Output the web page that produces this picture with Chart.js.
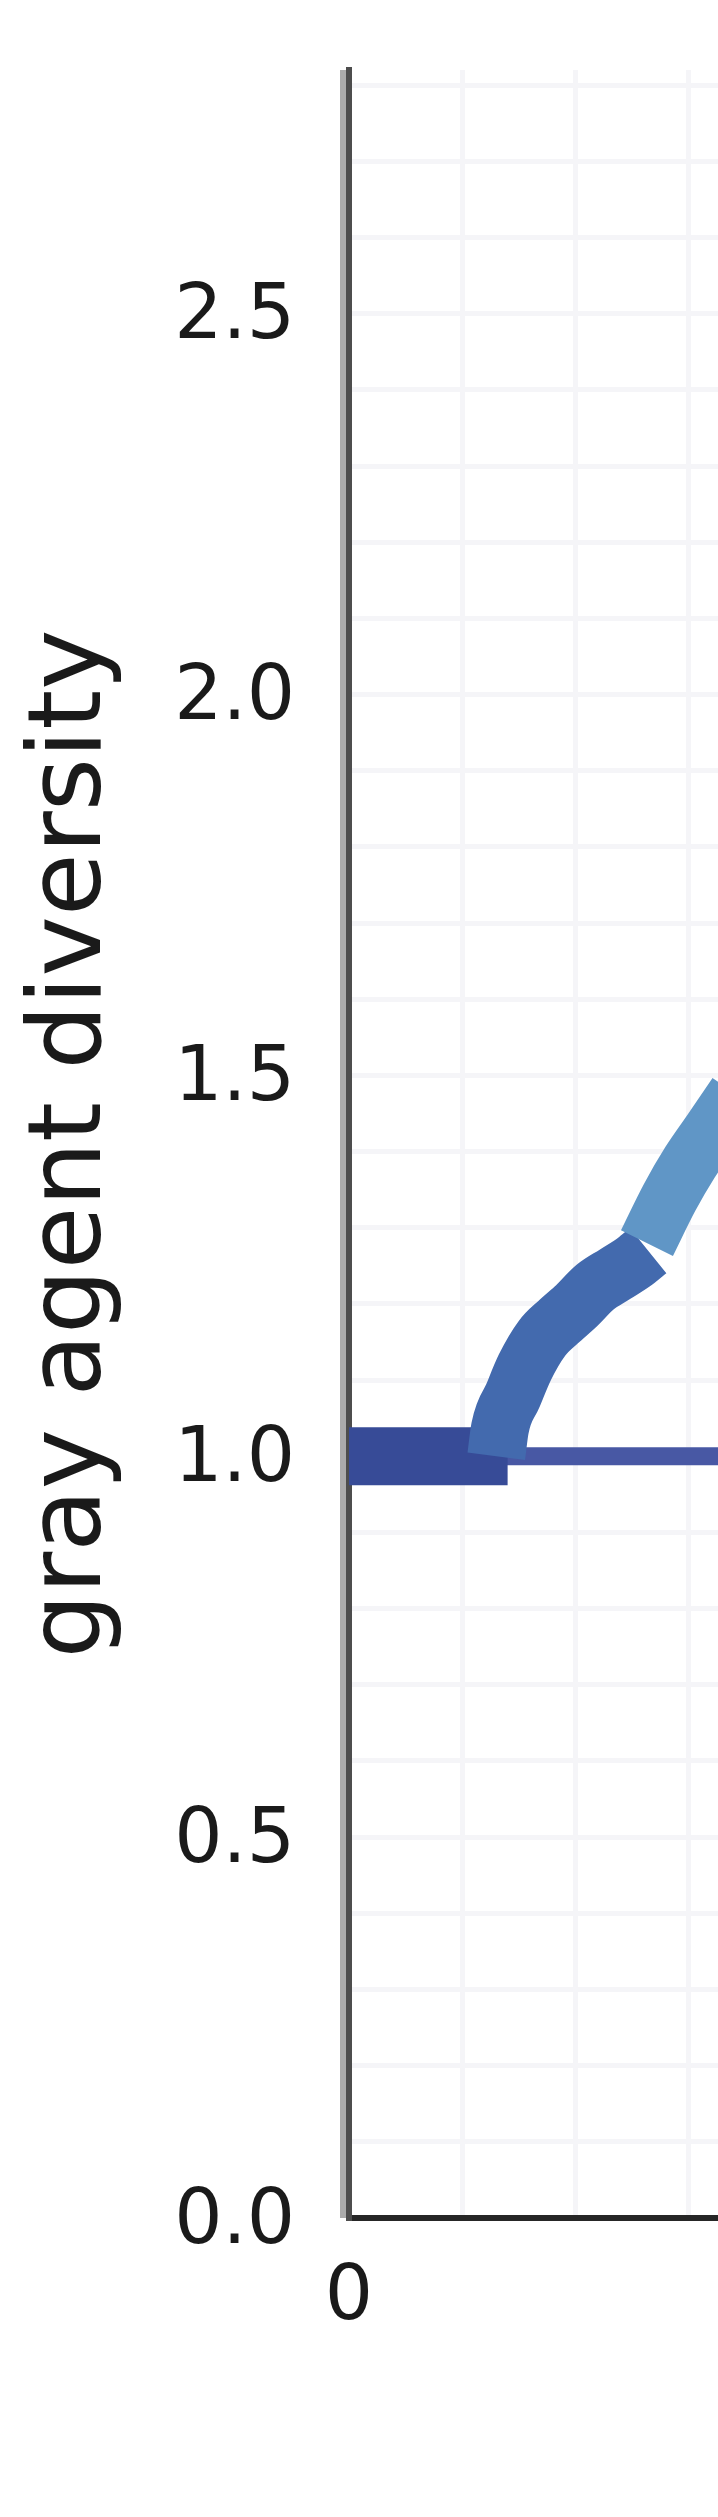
<!DOCTYPE html>
<html>
<head>
<meta charset="utf-8">
<title>gray agent diversity</title>
<script src="https://cdn.jsdelivr.net/npm/chart.js@4.4.1/dist/chart.umd.min.js"></script>
<style>
  html, body { margin: 0; padding: 0; background: #ffffff; overflow: hidden; }
</style>
</head>
<body>
<canvas id="diversityChart" width="718" height="2517"></canvas>
<script>
// Values (x = step, y = gray agent diversity)
const earlyX = [0, 1.40];
const earlyY = [1.0, 1.0];
const middleX = [1.30, 1.333, 1.448, 1.553, 1.704, 1.845, 2.004, 2.172, 2.348, 2.524, 2.64];
const middleY = [1.0, 1.037, 1.080, 1.117, 1.155, 1.176, 1.197, 1.222, 1.239, 1.256, 1.27];
const lateX = [2.63, 2.83, 3.01, 3.19, 3.42];
const lateY = [1.28, 1.34, 1.386, 1.425, 1.475];
const baselineX = [0, 3.4];
const baselineY = [1.0, 1.0];

// Tick labels that are printed (other grid lines stay unlabelled)
const yTickValues = [0, 0.5, 1.0, 1.5, 2.0, 2.5];
const yTickLabels = ['0.0', '0.5', '1.0', '1.5', '2.0', '2.5'];
const xTickValues = [0];
const xTickLabels = ['0'];

const tickFont = { family: 'DejaVu Sans', size: 76 };
const titleFont = { family: 'DejaVu Sans', size: 102 };
const gridColor = '#f5f5f8';

function toPoints(xs, ys) {
    return xs.map((x, i) => ({ x: x, y: ys[i] }));
}

function labelFor(values, labels, v) {
    const i = values.findIndex(t => Math.abs(t - v) < 1e-6);
    return i >= 0 ? labels[i] : '';
}

// light gray edge left of the y axis line
const axisShade = {
    id: 'axisShade',
    beforeDatasetsDraw(chart) {
        const { ctx, chartArea } = chart;
        ctx.save();
        ctx.fillStyle = '#ababab';
        ctx.fillRect(chartArea.left - 9, chartArea.top, 6, chartArea.bottom - chartArea.top);
        ctx.restore();
    }
};

const ctx = document.getElementById('diversityChart').getContext('2d');
new Chart(ctx, {
    type: 'line',
    data: {
        datasets: [
            {
                label: 'late',
                data: toPoints(lateX, lateY),
                borderColor: '#6096c6',
                borderWidth: 58,
                cubicInterpolationMode: 'monotone',
                order: 0
            },
            {
                label: 'middle',
                data: toPoints(middleX, middleY),
                borderColor: '#436aae',
                borderWidth: 58,
                cubicInterpolationMode: 'monotone',
                order: 1
            },
            {
                label: 'early',
                data: toPoints(earlyX, earlyY),
                borderColor: '#374b97',
                borderWidth: 58,
                order: 2
            },
            {
                label: 'baseline',
                data: toPoints(baselineX, baselineY),
                borderColor: '#4858a4',
                borderWidth: 18,
                order: 3
            }
        ]
    },
    options: {
        responsive: false,
        animation: false,
        devicePixelRatio: 1,
        layout: { autoPadding: false, padding: { top: 70, right: 0, bottom: 0, left: 0 } },
        elements: {
            point: { radius: 0 },
            line: { tension: 0, borderCapStyle: 'butt', borderJoinStyle: 'round', fill: false }
        },
        plugins: {
            legend: { display: false },
            tooltip: { enabled: false }
        },
        scales: {
            x: {
                type: 'linear',
                min: 0,
                max: 3.257,
                grid: { color: gridColor, lineWidth: 5, drawTicks: false },
                border: { color: '#262626', width: 6 },
                ticks: {
                    stepSize: 1,
                    includeBounds: false,
                    autoSkip: false,
                    maxRotation: 0,
                    padding: 36,
                    color: '#1a1a1a',
                    font: tickFont,
                    callback: v => labelFor(xTickValues, xTickLabels, v)
                },
                afterFit: scale => {
                    scale.height = 299;
                    scale.paddingRight = 0;
                }
            },
            y: {
                min: 0,
                max: 2.82,
                grid: { color: gridColor, lineWidth: 5, drawTicks: false },
                border: { color: '#4d4d4d', width: 6 },
                ticks: {
                    stepSize: 0.1,
                    includeBounds: false,
                    autoSkip: false,
                    padding: 54,
                    labelOffset: 5,
                    color: '#1a1a1a',
                    font: tickFont,
                    callback: v => labelFor(yTickValues, yTickLabels, v)
                },
                title: {
                    display: true,
                    text: 'gray agent diversity',
                    color: '#1a1a1a',
                    font: titleFont,
                    padding: { top: 12, bottom: 0 }
                },
                afterFit: scale => {
                    scale.width = 349;
                    scale.paddingTop = 0;
                    scale.paddingBottom = 0;
                }
            }
        }
    },
    plugins: [axisShade]
});
</script>
</body>
</html>
